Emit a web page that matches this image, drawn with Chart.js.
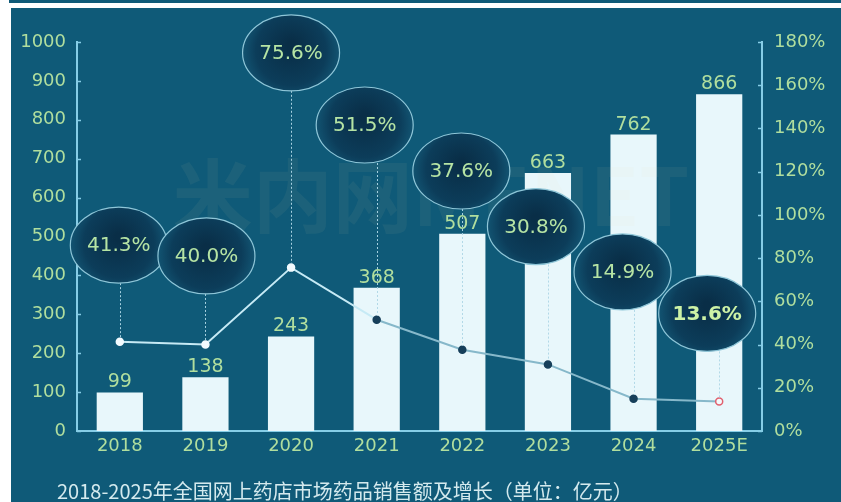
<!DOCTYPE html>
<html>
<head>
<meta charset="utf-8">
<script src="https://cdn.jsdelivr.net/npm/chart.js@4.4.1/dist/chart.umd.min.js"></script>
<style>
  html, body { margin: 0; padding: 0; background: #ffffff; }
  body { width: 841px; height: 502px; position: relative; overflow: hidden; }
  .strip { position: absolute; left: 9px; top: 0; width: 832px; height: 3px; background: #0f5a78; }
  .panel { position: absolute; left: 11px; top: 8px; width: 830px; height: 494px; background: #0f5a78; }
</style>
</head>
<body>
<div class="strip"></div>
<div class="panel"><canvas id="salesChart" width="830" height="494"></canvas></div>
<script>
const years = ['2018', '2019', '2020', '2021', '2022', '2023', '2024', '2025E'];
const sales = [99, 138, 243, 368, 507, 663, 762, 866];
const growth = [41.3, 40.0, 75.6, 51.5, 37.6, 30.8, 14.9, 13.6];

const chartTitle = '2018-2025年全国网上药店市场药品销售额及增长（单位：亿元）';

// where each growth bubble sits: dx in px from its point, "at" on the % axis
const bubbleSpots = [
    { dx: -1, at: 86 }, { dx: 1, at: 81 }, { dx: 0, at: 175 }, { dx: -12, at: 141.6 },
    { dx: -1, at: 120.3 }, { dx: -12, at: 94.6 }, { dx: -11, at: 73.6 }, { dx: -12, at: 54.4 }
];

const axisColor = '#86cde6';
const tickColor = '#b0de9e';
const font = "'DejaVu Sans', sans-serif";

const pointFill = ['#f2fbff', '#f2fbff', '#f2fbff', '#163f5a', '#163f5a', '#163f5a', '#163f5a', '#f4fafc'];
const pointEdge = ['#f2fbff', '#f2fbff', '#f2fbff', '#163f5a', '#163f5a', '#163f5a', '#163f5a', '#e0606e'];

const overlay = {
    id: 'overlay',
    afterDatasetsDraw(chart) {
        const { ctx, chartArea: a, scales } = chart;
        ctx.save();

        // faint watermark across the middle
        ctx.globalAlpha = 0.06;
        ctx.fillStyle = '#e8d6b0';
        ctx.font = "bold 80px 'Noto Sans CJK SC', 'DejaVu Sans'";
        ctx.textAlign = 'center';
        ctx.textBaseline = 'middle';
        ctx.fillText('米内网MENET', 420, 188, 615);
        ctx.globalAlpha = 1;

        // short inward tick marks on both value axes
        ctx.strokeStyle = axisColor;
        ctx.lineWidth = 1.5;
        scales.y.ticks.forEach((t, i) => {
            const py = Math.round(scales.y.getPixelForTick(i)) + 0.5;
            ctx.beginPath(); ctx.moveTo(a.left, py); ctx.lineTo(a.left + 4, py); ctx.stroke();
        });
        scales.y1.ticks.forEach((t, i) => {
            const py = Math.round(scales.y1.getPixelForTick(i)) + 0.5;
            ctx.beginPath(); ctx.moveTo(a.right - 4, py); ctx.lineTo(a.right, py); ctx.stroke();
        });

        // sales values above the bars
        ctx.fillStyle = tickColor;
        ctx.font = '19px ' + font;
        ctx.textAlign = 'center';
        ctx.textBaseline = 'alphabetic';
        chart.getDatasetMeta(0).data.forEach((bar, i) => {
            ctx.fillText(String(sales[i]), bar.x, bar.y - 5);
        });

        // growth bubbles with dotted leaders down to the line
        const RX = 48.5, RY = 38;
        const pts = chart.getDatasetMeta(1).data;
        growth.forEach((g, i) => {
            const p = pts[i];
            const cx = p.x + bubbleSpots[i].dx;
            const cy = scales.y1.getPixelForValue(bubbleSpots[i].at);

            ctx.save();
            ctx.strokeStyle = 'rgba(175, 215, 230, 0.95)';
            ctx.lineWidth = 1;
            ctx.setLineDash([2, 2]);
            ctx.beginPath();
            ctx.moveTo(Math.round(p.x) + 0.5, cy + RY);
            ctx.lineTo(Math.round(p.x) + 0.5, p.y - 4);
            ctx.stroke();
            ctx.restore();

            const grad = ctx.createRadialGradient(cx, cy - 8, 4, cx, cy, RX);
            grad.addColorStop(0, '#092e47');
            grad.addColorStop(0.7, '#0c3d5a');
            grad.addColorStop(1, '#125472');
            ctx.beginPath();
            ctx.ellipse(cx, cy, RX, RY, 0, 0, Math.PI * 2);
            ctx.fillStyle = grad;
            ctx.fill();
            ctx.strokeStyle = '#8fc6d8';
            ctx.lineWidth = 1.2;
            ctx.stroke();

            ctx.fillStyle = i === growth.length - 1 ? '#cdf2a6' : '#b6e4a4';
            ctx.font = (i === growth.length - 1 ? 'bold ' : '') + '20px ' + font;
            ctx.textAlign = 'center';
            ctx.textBaseline = 'middle';
            ctx.fillText(g.toFixed(1) + '%', cx, cy + 1);
        });

        // caption under the chart
        ctx.fillStyle = '#d4eaee';
        ctx.font = "20px 'Noto Sans CJK SC', sans-serif";
        ctx.textAlign = 'left';
        ctx.textBaseline = 'middle';
        ctx.fillText(chartTitle, 46, 483);

        ctx.restore();
    }
};

new Chart(document.getElementById('salesChart'), {
    type: 'bar',
    data: {
        labels: years,
        datasets: [
            {
                type: 'bar',
                label: '销售额',
                data: sales,
                yAxisID: 'y',
                backgroundColor: '#e8f7fb',
                borderWidth: 0,
                barPercentage: 0.54,
                categoryPercentage: 1,
                order: 2
            },
            {
                type: 'line',
                label: '增长率',
                data: growth,
                yAxisID: 'y1',
                borderWidth: 2,
                borderColor: '#c6eaf5',
                segment: {
                    borderColor: c => c.p0DataIndex >= 3 ? '#86b8ca' : '#c6eaf5'
                },
                pointRadius: 3.5,
                pointBackgroundColor: pointFill,
                pointBorderColor: pointEdge,
                pointBorderWidth: 1.5,
                tension: 0,
                order: 1
            }
        ]
    },
    options: {
        responsive: false,
        animation: false,
        layout: { padding: { left: 0, right: 0, top: 34, bottom: 41 } },
        plugins: {
            legend: { display: false },
            tooltip: { enabled: false },
            title: { display: false }
        },
        scales: {
            x: {
                grid: { display: false, drawTicks: false },
                border: { display: true, color: axisColor, width: 2 },
                ticks: { color: tickColor, font: { family: font, size: 18 }, padding: 5 },
                afterFit: s => { s.height = 30; }
            },
            y: {
                position: 'left',
                min: 0,
                max: 1000,
                grid: { display: false, drawTicks: false },
                border: { display: true, color: axisColor, width: 2 },
                ticks: {
                    stepSize: 100,
                    color: tickColor,
                    font: { family: font, size: 18 },
                    padding: 11,
                    callback: v => String(v)
                },
                afterFit: s => { s.width = 66; }
            },
            y1: {
                position: 'right',
                min: 0,
                max: 180,
                grid: { display: false, drawTicks: false },
                border: { display: true, color: axisColor, width: 2 },
                ticks: {
                    stepSize: 20,
                    color: tickColor,
                    font: { family: font, size: 18 },
                    padding: 12,
                    callback: v => v + '%'
                },
                afterFit: s => { s.width = 79; }
            }
        }
    },
    plugins: [overlay]
});
</script>
</body>
</html>
